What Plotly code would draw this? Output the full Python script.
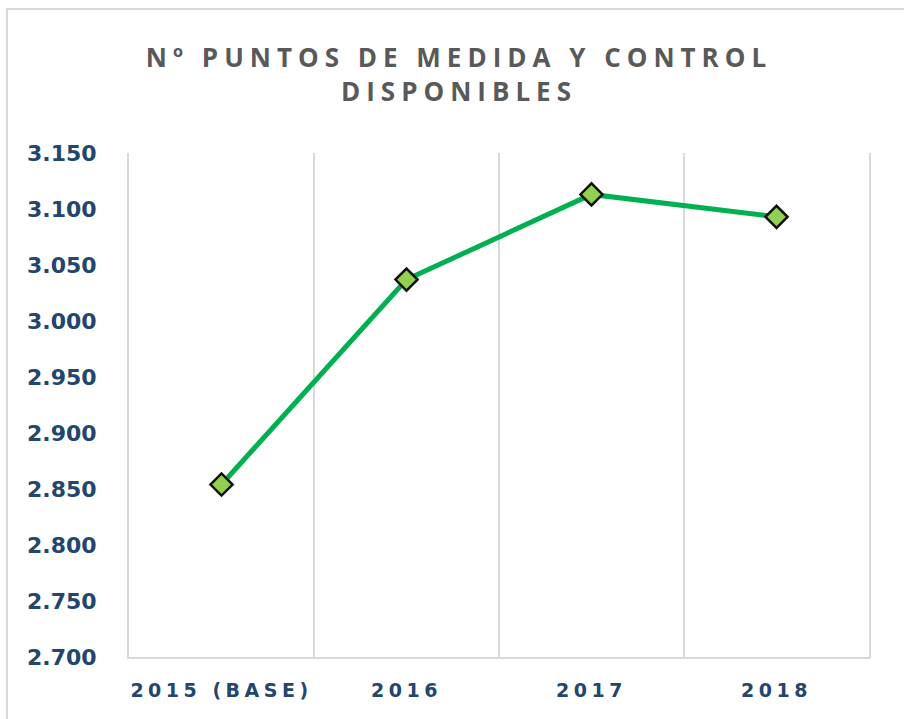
import plotly.graph_objects as go

categories = ["2015 (BASE)", "2016", "2017", "2018"]
values = [2854, 3037, 3113, 3093]
title_text = "Nº PUNTOS DE MEDIDA Y CONTROL<br>DISPONIBLES"

W, H = 904, 719
L, R, T, B = 129, 35, 153, 62
pw, ph = W - L - R, H - T - B

fig = go.Figure()
fig.add_trace(go.Scatter(
    x=categories, y=values, mode="lines+markers",
    line=dict(color="#00B050", width=5),
    marker=dict(symbol="diamond", size=17, color="#92D050",
                line=dict(color="#111111", width=2.5)),
    showlegend=False, hoverinfo="skip",
))

fig.update_layout(
    width=W, height=H,
    margin=dict(l=L, r=R, t=T, b=B, pad=0),
    paper_bgcolor="white", plot_bgcolor="white",
    separators=",.",
    title=dict(text=title_text, x=459 / W, xanchor="center", y=1 - 67 / H, yanchor="middle",
               font=dict(family="Open Sans", size=26, color="#595959", weight="bold")),
    xaxis=dict(type="category", tickson="boundaries", showgrid=True, gridcolor="#d9d9d9",
               gridwidth=2, showline=True, linecolor="#d9d9d9", linewidth=2,
               ticks="", range=[-0.5, 3.5], zeroline=False,
               tickfont=dict(family="DejaVu Sans", size=19, color="#23466F", weight="bold"),
               ticklabelstandoff=15),
    yaxis=dict(range=[2700, 3150], dtick=50, tick0=2700, tickformat=",d",
               showgrid=False, zeroline=False, showline=True, mirror=True,
               linecolor="#d9d9d9", linewidth=2, ticks="",
               tickfont=dict(family="DejaVu Sans", size=22, color="#23466F", weight="bold"),
               ticklabelstandoff=26),
    shapes=[dict(type="path", xref="paper", yref="paper",
                 path="M %f %f L %f %f L %f %f" % ((910 - L) / pw, (H - B - 9) / ph,
                                                  (7 - L) / pw, (H - B - 9) / ph,
                                                  (7 - L) / pw, -0.2),
                 line=dict(color="#d9d9d9", width=2))],
)

post = """
document.body.style.margin='0';
document.body.style.padding='0';
var gd = document.getElementById('{plot_id}');
gd.querySelectorAll('.xtick text').forEach(function(t){t.style.letterSpacing='4.5px';});
gd.querySelectorAll('.gtitle').forEach(function(t){t.style.letterSpacing='6px';});
"""
fig.write_html("out.html", post_script=post, config={"displayModeBar": False})
